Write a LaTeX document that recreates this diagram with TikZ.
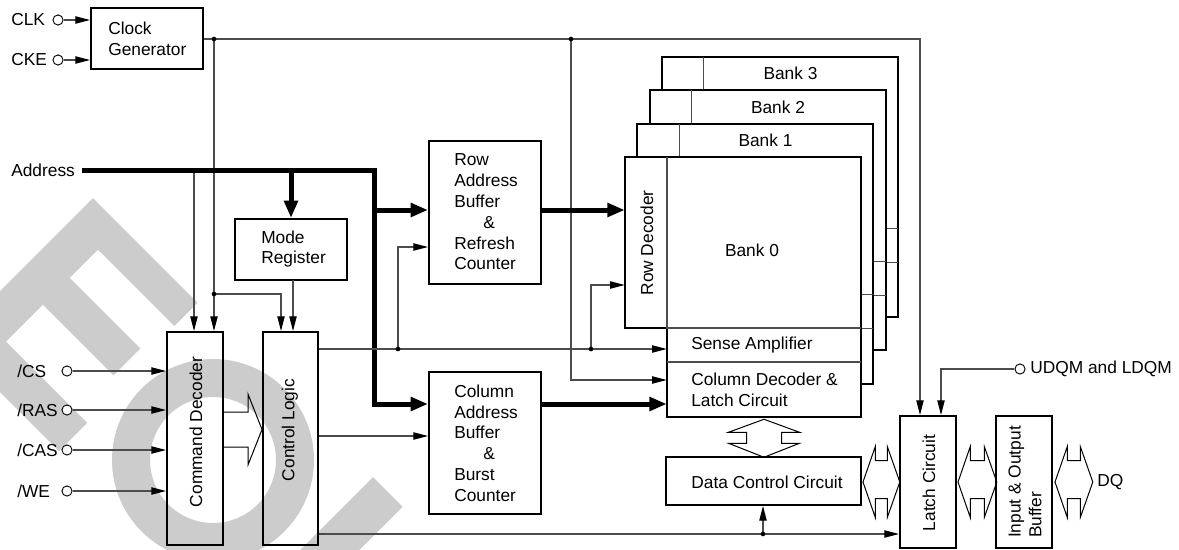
\documentclass[tikz,border=0pt]{standalone}
\usepackage{fontspec}
\setmainfont{Liberation Sans}
\usetikzlibrary{arrows.meta,fit,calc}
\newcommand\hdbl[2]{\draw[blk] #1 -- ++(12.3,-35.5) -- ++(0,14) -- ++(#2,0) -- ++(0,-14) -- ++(12.5,35.5) -- ++(-12.5,35.5) -- ++(0,-19) -- ++(-#2,0) -- ++(0,19) -- cycle;}
\begin{document}
\begin{tikzpicture}[x=0.75pt,y=-0.75pt,
  every node/.style={font=\fontsize{13pt}{15.6pt}\selectfont, inner sep=0pt},
  box/.style={draw, line width=1.5pt},
  wire/.style={line width=0.8pt, draw=black!70},
  arr/.style={wire, -{Triangle[length=11pt,width=5.5pt,color=black]}},
  bus/.style={line width=3.75pt, -{Triangle[length=13pt,width=10pt]}},
  pin/.style={circle, draw, line width=0.7pt, minimum size=7.6pt, inner sep=0pt, fill=white},
  dot/.style={circle, fill=black, minimum size=3.5pt, inner sep=0pt},
  blk/.style={draw, line width=0.75pt, line join=miter},
  bankout/.style={draw, line width=1.5pt, fill=white},
  wm/.style={fill={rgb,255:red,204;green,204;blue,204}}
]
\useasboundingbox (0,0) rectangle (1179,550);
% watermark
\begin{scope}
\clip (0,0) rectangle (1179,550);
\begin{scope}[shift={(93,198)}, rotate=-45]
  \fill[wm] (0,0) rectangle (40,230) (0,0) rectangle (148,33) (0,73) rectangle (140,111) (0,163) rectangle (155,203);
\end{scope}
\fill[wm, even odd rule] (213,460) circle[radius=101] (213,460) circle[radius=63];
\begin{scope}[shift={(373,477)}, rotate=-45]
  \fill[wm] (0,0) rectangle (42,200);
\end{scope}
\end{scope}

% boxes
\node[box, fit={(91,8) (203,69)}] (cg) {};
\node[anchor=west, align=left] (cgt) at (108,39) {Clock\\Generator};
\node[box, fit={(235,219) (347,280)}] (mr) {};
\node[anchor=west, align=left] (mrt) at (261,249) {Mode\\Register};
\node[box, fit={(167,332) (223,545)}] (cd) {};
\node[rotate=90] (cdt) at (196,432) {Command Decoder};
\node[box, fit={(263,332) (318,545)}] (cl) {};
\node[rotate=90] (clt) at (290,430) {Control Logic};
\node[box, fit={(429,141) (541,284)}] (rab) {};
\node[anchor=west, align=left] (rabt) at (454,212) {Row\\Address\\Buffer\\\hspace*{21.75pt}\&\\Refresh\\Counter};
\node[box, fit={(429,372) (541,514)}] (cab) {};
\node[anchor=west, align=left] (cabt) at (454,443) {Column\\Address\\Buffer\\\hspace*{21.75pt}\&\\Burst\\Counter};
\node[box, fit={(666,457) (861,505)}] (dcc) {};
\node (dcct) at (767,482) {Data Control Circuit};
\node[box, fit={(900,416) (956,548)}] (lc) {};
\node[rotate=90] (lct) at (929,483) {Latch Circuit};
\node[box, fit={(996,416) (1052,548)}] (iob) {};
\node[rotate=90, align=left] (iobt) at (1025,482) {Input \& Output\\Buffer};

% banks
\foreach \k in {3,2,1}{
  \begin{scope}[shift={(12.3*\k,-33.3*\k)}]
    \draw[bankout] (625,157) -- (861,157) -- (861,417) -- (667,417) -- (667,328) -- (625,328) -- cycle;
    \draw[wire] (667,157) -- (667,328) -- (861,328);
    \draw[wire] (667,362) -- (861,362);
  \end{scope}
  \node (bk\k) at (753+12.5*\k,173.6-33.3*\k) {Bank \k};
}
\draw[bankout] (625,157) -- (861,157) -- (861,417) -- (667,417) -- (667,328) -- (625,328) -- cycle;
\draw[wire] (667,157) -- (667,328) -- (861,328);
\draw[wire] (667,362) -- (861,362);
\node[fit={(625,157) (667,328)}] (rd) {};
\node[fit={(667,328) (861,362)}] (sa) {};
\node[fit={(667,362) (861,417)}] (cdl) {};
\node (bk0) at (752,250) {Bank 0};
\node[rotate=90] (rdt) at (647,243) {Row Decoder};
\node[anchor=west] (sat) at (691,345) {Sense Amplifier};
\node[anchor=west, align=left] (cdlt) at (691,390) {Column Decoder \&\\Latch Circuit};

% clock inputs
\node[pin] (pclk) at (58,20) {};
\node[anchor=west] (tclk) at (11,20) {CLK};
\draw[arr] (pclk) -- (pclk -| cg.west);
\node[pin] (pcke) at (58,60) {};
\node[anchor=west] (tcke) at (11,60) {CKE};
\draw[arr] (pcke) -- (pcke -| cg.west);

% clock distribution
\coordinate (ckA) at (214,39);
\coordinate (ckB) at (571,39);
\coordinate (ckR) at (920,39);
\coordinate (ckC) at (214,294);
\coordinate (ckD) at (281,294);
\coordinate (ckE) at (571,380);
\draw[arr] (cg.east |- ckA) -- (ckR) -- (ckR |- lc.north);
\draw[arr] (ckA) -- (ckA |- cd.north);
\draw[arr] (ckC) -- (ckD) -- (ckD |- cl.north);
\draw[arr] (ckB) -- (ckE) -- (ckE -| cdl.west);
\node[dot] (dA) at (ckA) {};
\node[dot] (dB) at (ckB) {};
\node[dot] (dC) at (ckC) {};

% address bus
\node[anchor=west] (addr) at (11,170) {Address};
\coordinate (bA) at (82,170);
\coordinate (b1) at (374,170);
\coordinate (b2) at (374,404);
\coordinate (b3) at (374,210);
\coordinate (b4) at (291,170);
\coordinate (b5) at (194,170);
\draw[arr] (b5) -- (b5 |- cd.north);
\draw[bus] (bA) -- (b1) -- (b2) -- (b2 -| cab.west);
\draw[bus] (b3) -- (b3 -| rab.west);
\draw[bus] (b4) -- (mr.north);
\draw[bus] (rab.east |- b3) -- (rd.west |- b3);
\draw[bus] (cab.east |- b2) -- (cdl.west |- b2);

% mode register to control logic
\coordinate (m1) at (293,280);
\draw[arr] (m1) -- (m1 |- cl.north);

% control logic outputs
\coordinate (yA) at (0,349);
\coordinate (yB) at (0,436);
\coordinate (yC) at (0,534);
\coordinate (r1) at (398,247);
\coordinate (r2) at (591,285);
\coordinate (dDc) at (398,349);
\coordinate (dEc) at (591,349);
\coordinate (dFc) at (763,534);
\draw[arr] (cl.east |- yA) -- (sa.west |- yA);
\draw[arr] (dDc) -- (r1) -- (r1 -| rab.west);
\draw[arr] (dEc) -- (r2) -- (r2 -| rd.west);
\draw[arr] (cl.east |- yB) -- (cab.west |- yB);
\draw[arr] (cl.east |- yC) -- (lc.west |- yC);
\draw[arr] (dFc) -- (dFc |- dcc.south);
\node[dot] (dD) at (dDc) {};
\node[dot] (dE) at (dEc) {};
\node[dot] (dF) at (dFc) {};

% command inputs
\node[pin] (pcs) at (67,371) {};
\node[anchor=west] (tcs) at (17,371) {/CS};
\draw[arr] (pcs) -- (pcs -| cd.west);
\node[pin] (pras) at (67,410) {};
\node[anchor=west] (tras) at (17,410) {/RAS};
\draw[arr] (pras) -- (pras -| cd.west);
\node[pin] (pcas) at (67,450) {};
\node[anchor=west] (tcas) at (17,450) {/CAS};
\draw[arr] (pcas) -- (pcas -| cd.west);
\node[pin] (pwe) at (67,491) {};
\node[anchor=west] (twe) at (17,491) {/WE};
\draw[arr] (pwe) -- (pwe -| cd.west);

% block arrow command decoder -> control logic
\coordinate (q1) at (248,412);
\coordinate (q2) at (248,394);
\coordinate (q3) at (263,429.5);
\coordinate (q4) at (248,465);
\coordinate (q5) at (248,447);
\draw[blk] (cd.east |- q1) -- (q1) -- (q2) -- (q3 -| cl.west) -- (q4) -- (q5) -- (cd.east |- q5);

% data double arrows
\draw[blk] ($(cdl.south)+(0,2)$) -- ++(35.5,13) -- ++(-18,0) -- ++(0,11) -- ++(18,0) -- ++(-35.5,14) -- ++(-35.5,-14) -- ++(18,0) -- ++(0,-11) -- ++(-18,0) -- cycle;
\coordinate (yD) at (0,482);
\hdbl{($(dcc.east |- yD)+(1,0)$)}{12}
\hdbl{($(lc.east |- yD)+(1,0)$)}{14}
\hdbl{($(iob.east |- yD)+(2,0)$)}{13}
\node[anchor=west] (dq) at (1097,482) {DQ};

% UDQM / LDQM
\node[pin] (pdq) at (1020,369) {};
\node[anchor=west] (tdq) at (1030,369) {UDQM and LDQM};
\coordinate (u1) at (941,369);
\draw[arr] (pdq) -- (u1) -- (u1 |- lc.north);
\end{tikzpicture}
\end{document}
